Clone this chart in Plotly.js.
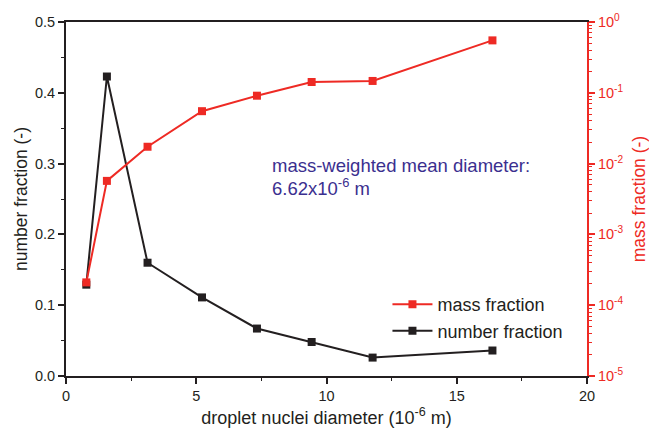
<!DOCTYPE html>
<html><head><meta charset="utf-8">
<script src="https://cdn.plot.ly/plotly-3.0.1.min.js"></script>
<style>body{margin:0;background:#fff}#chart{width:649px;height:433px}</style>
</head><body><div id="chart"></div>
<script>
const diameter = [0.78, 1.57, 3.13, 5.22, 7.33, 9.43, 11.77, 16.37];
const numberFraction = [0.129, 0.423, 0.160, 0.111, 0.067, 0.048, 0.026, 0.036];
const massFraction = [2.1e-4, 5.7e-3, 1.73e-2, 5.5e-2, 9.1e-2, 0.142, 0.147, 0.55];
const massTickVals = [1e-5, 1e-4, 1e-3, 1e-2, 1e-1, 1];
const massTickText = ['10<sup>-5</sup>','10<sup>-4</sup>','10<sup>-3</sup>','10<sup>-2</sup>','10<sup>-1</sup>','10<sup>0</sup>'];

const RED = '#ee2a24', BLACK = '#231f20', BLUE = '#3b2f8f';
const font = {family: 'Liberation Sans, Arial, sans-serif', size: 14.5, color: BLACK};

const traces = [
  {x: diameter, y: massFraction, yaxis: 'y2', name: 'mass fraction', mode: 'lines+markers',
   line: {color: RED, width: 2}, marker: {symbol: 'square', size: 8, color: RED}},
  {x: diameter, y: numberFraction, name: 'number fraction', mode: 'lines+markers',
   line: {color: BLACK, width: 2}, marker: {symbol: 'square', size: 8, color: BLACK}}
];

const layout = {
  width: 649, height: 433,
  margin: {l: 66, r: 62, t: 22, b: 57},
  paper_bgcolor: '#fff', plot_bgcolor: '#fff',
  font: font,
  showlegend: true,
  legend: {x: 0.617, y: 0.254, xanchor: 'left', yanchor: 'top', bgcolor: 'rgba(0,0,0,0)',
           font: {size: 18, color: BLACK}, tracegroupgap: 0, itemwidth: 40},
  xaxis: {range: [0, 20], showgrid: false, zeroline: false, showline: true, linecolor: BLACK, linewidth: 2,
          mirror: true, ticks: 'outside', ticklen: 6, tickwidth: 2, tickcolor: BLACK, dtick: 5,
          minor: {ticks: 'outside', dtick: 2.5, ticklen: 3, tickwidth: 1, tickcolor: BLACK},
          tickfont: {size: 14.5, color: BLACK},
          title: {text: 'droplet nuclei diameter (10<sup>-6</sup> m)', font: {size: 18, color: BLACK}, standoff: 8}},
  yaxis: {range: [0, 0.5], showgrid: false, zeroline: false, showline: true, linecolor: BLACK, linewidth: 2,
          ticks: 'outside', ticklen: 6, tickwidth: 2, tickcolor: BLACK, dtick: 0.1, tickformat: '.1f',
          minor: {ticks: 'outside', dtick: 0.05, ticklen: 3, tickwidth: 1, tickcolor: BLACK},
          tickfont: {size: 14.5, color: BLACK},
          title: {text: 'number fraction (-)', font: {size: 17.5, color: BLACK}, standoff: 3}},
  yaxis2: {type: 'log', range: [-5, 0], overlaying: 'y', side: 'right', showgrid: false, zeroline: false,
           showline: true, linecolor: RED, linewidth: 2, ticks: 'outside', ticklen: 6, tickwidth: 2, tickcolor: RED,
           tickvals: massTickVals, ticktext: massTickText,
           minor: {ticks: 'outside', dtick: 'D1', ticklen: 3, tickwidth: 1, tickcolor: RED},
           tickfont: {size: 14.5, color: RED},
           title: {text: 'mass fraction (-)', font: {size: 17.5, color: RED}, standoff: 14}},
  annotations: [
    {xref: 'x', yref: 'paper', x: 7.83, y: 0.596, xanchor: 'left', yanchor: 'middle', align: 'left',
     showarrow: false, text: 'mass-weighted mean diameter:', font: {size: 18.5, color: BLUE}},
    {xref: 'x', yref: 'paper', x: 7.83, y: 0.534, xanchor: 'left', yanchor: 'middle', align: 'left',
     showarrow: false, text: '6.62x10<sup>-6</sup> m', font: {size: 18.5, color: BLUE}}
  ]
};

Plotly.newPlot('chart', traces, layout, {displayModeBar: false, staticPlot: true});
</script></body></html>
